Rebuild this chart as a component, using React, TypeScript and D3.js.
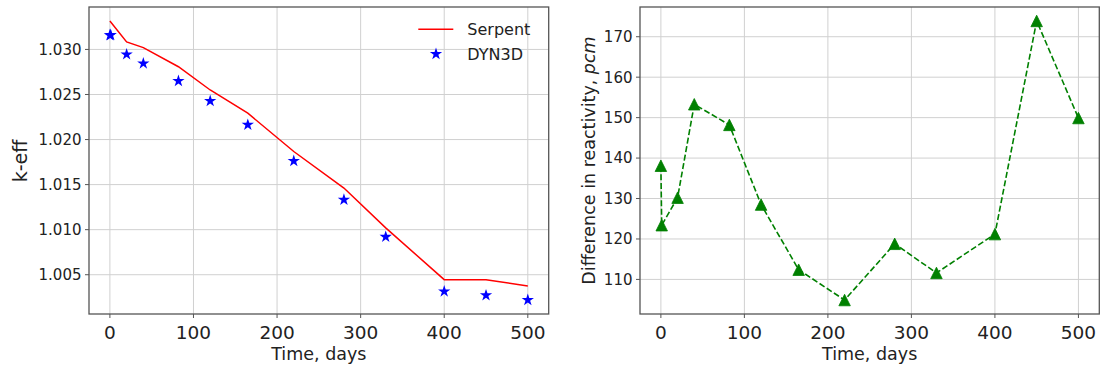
import React from 'react';
import * as d3 from 'd3';

// burnup comparison data
const timeDays = [0, 1, 20, 40, 82, 120, 165, 220, 280, 330, 400, 450, 500];
const keffDyn3d = [1.03158, 1.0316, 1.02945, 1.02845, 1.02649, 1.02428, 1.02163, 1.01761, 1.01333, 1.0092, 1.00315, 1.00271, 1.00219];
const timeSerpent = [0, 20, 40, 82, 120, 165, 220, 280, 330, 400, 450, 500];
const keffSerpent = [1.03316, 1.03084, 1.0302, 1.02808, 1.0255, 1.02292, 1.01867, 1.01462, 1.0102, 1.00445, 1.00445, 1.00374];
const diffPcm = [138.1, 123.4, 130.2, 153.3, 148.2, 128.5, 112.4, 104.9, 118.8, 111.6, 121.2, 173.9, 149.9];

const xTicks = [0, 100, 200, 300, 400, 500];
const keffTicks = [1.005, 1.01, 1.015, 1.02, 1.025, 1.03];
const pcmTicks = [110, 120, 130, 140, 150, 160, 170];

const W = 1105;
const H = 376;
const top = 7;
const bottom = 314;
const FONT = 'DejaVu Sans, sans-serif';
const GRID = '#d0d0d0';
const SPINE = '#555';
const TXT = '#222';

// matplotlib style 5% margins
const pad = (ext: number[]) => {
    const m = (ext[1] - ext[0]) * 0.05;
    return [ext[0] - m, ext[1] + m];
};

const Panel = ({ left, right, yScale, yTicks, yFmt, children }: any) => {
    const x = d3.scaleLinear().domain(pad([0, 500])).range([left, right]);
    return (
        <g>
            {xTicks.map((t) => (
                <line key={'gx' + t} x1={x(t)} x2={x(t)} y1={top} y2={bottom} stroke={GRID} strokeWidth={1} />
            ))}
            {yTicks.map((t: number) => (
                <line key={'gy' + t} x1={left} x2={right} y1={yScale(t)} y2={yScale(t)} stroke={GRID} strokeWidth={1} />
            ))}
            {children(x)}
            <rect x={left} y={top} width={right - left} height={bottom - top} fill="none" stroke={SPINE} strokeWidth={1.3} />
            {xTicks.map((t) => (
                <g key={'tx' + t}>
                    <line x1={x(t)} x2={x(t)} y1={bottom} y2={bottom + 4} stroke={SPINE} strokeWidth={1} />
                    <text x={x(t)} y={338.5} textAnchor="middle" fontSize={18.5} fill={TXT} fontFamily={FONT}>{t}</text>
                </g>
            ))}
            {yTicks.map((t: number) => (
                <g key={'ty' + t}>
                    <line x1={left - 4} x2={left} y1={yScale(t)} y2={yScale(t)} stroke={SPINE} strokeWidth={1} />
                    <text x={left - 7.5} y={yScale(t) + 5.4} textAnchor="end" fontSize={15} fill={TXT} fontFamily={FONT}>{yFmt(t)}</text>
                </g>
            ))}
            <text x={(left + right) / 2} y={360} textAnchor="middle" fontSize={17.5} fill={TXT} fontFamily={FONT}>Time, days</text>
        </g>
    );
};

const App = () => {
    const yK = d3.scaleLinear().domain(pad(d3.extent([...keffDyn3d, ...keffSerpent]) as number[])).range([bottom, top]);
    const yP = d3.scaleLinear().domain(pad(d3.extent(diffPcm) as number[])).range([bottom, top]);
    const star = d3.symbol().type(d3.symbolStar).size(47);

    const tri = (cx: number, cy: number, s: number) =>
        `M${cx},${cy - s / 2}L${cx - s / 2},${cy + s / 2}L${cx + s / 2},${cy + s / 2}Z`;

    return (
        <svg width={W} height={H} style={{ position: 'absolute', left: 0, top: 0, background: '#fff' }}>
            <rect width={W} height={H} fill="#fff" />
            <Panel left={89} right={548.7} yScale={yK} yTicks={keffTicks} yFmt={d3.format('.3f')}>
                {(x: any) => {
                    const line = d3.line<number>().x((d, i) => x(timeSerpent[i])).y((d) => yK(d));
                    return (
                        <g>
                            <path d={line(keffSerpent) || ''} fill="none" stroke="#ff0000" strokeWidth={1.5} />
                            {keffDyn3d.map((v, i) => (
                                <path key={i} d={star() || ''} transform={`translate(${x(timeDays[i])},${yK(v)})`} fill="#0000ff" />
                            ))}
                            {/* legend */}
                            <line x1={418.3} x2={453.3} y1={29.3} y2={29.3} stroke="#ff0000" strokeWidth={1.5} />
                            <text x={467.3} y={35.1} fontSize={16} fill={TXT} fontFamily={FONT}>Serpent</text>
                            <path d={star() || ''} transform="translate(436,54)" fill="#0000ff" />
                            <text x={467.3} y={59.8} fontSize={16} fill={TXT} fontFamily={FONT}>DYN3D</text>
                        </g>
                    );
                }}
            </Panel>
            <text transform={`translate(26.5,161) rotate(-90)`} textAnchor="middle" fontSize={19} fill={TXT} fontFamily={FONT}>k-eff</text>

            <Panel left={640} right={1099.3} yScale={yP} yTicks={pcmTicks} yFmt={d3.format('d')}>
                {(x: any) => {
                    const line = d3.line<number>().x((d, i) => x(timeDays[i])).y((d) => yP(d));
                    return (
                        <g>
                            <path d={line(diffPcm) || ''} fill="none" stroke="#008000" strokeWidth={1.6} strokeDasharray="6,2.6" />
                            {diffPcm.map((v, i) => (
                                <path key={i} d={tri(x(timeDays[i]), yP(v), 11.5)} fill="#008000" stroke="#008000" strokeWidth={0.8} />
                            ))}
                        </g>
                    );
                }}
            </Panel>
            <text transform={`translate(594.5,160.5) rotate(-90)`} textAnchor="middle" fontSize={17.5} fill={TXT} fontFamily={FONT}>
                Difference in reactivity, <tspan fontStyle="italic">pcm</tspan>
            </text>
        </svg>
    );
};

export default App;
